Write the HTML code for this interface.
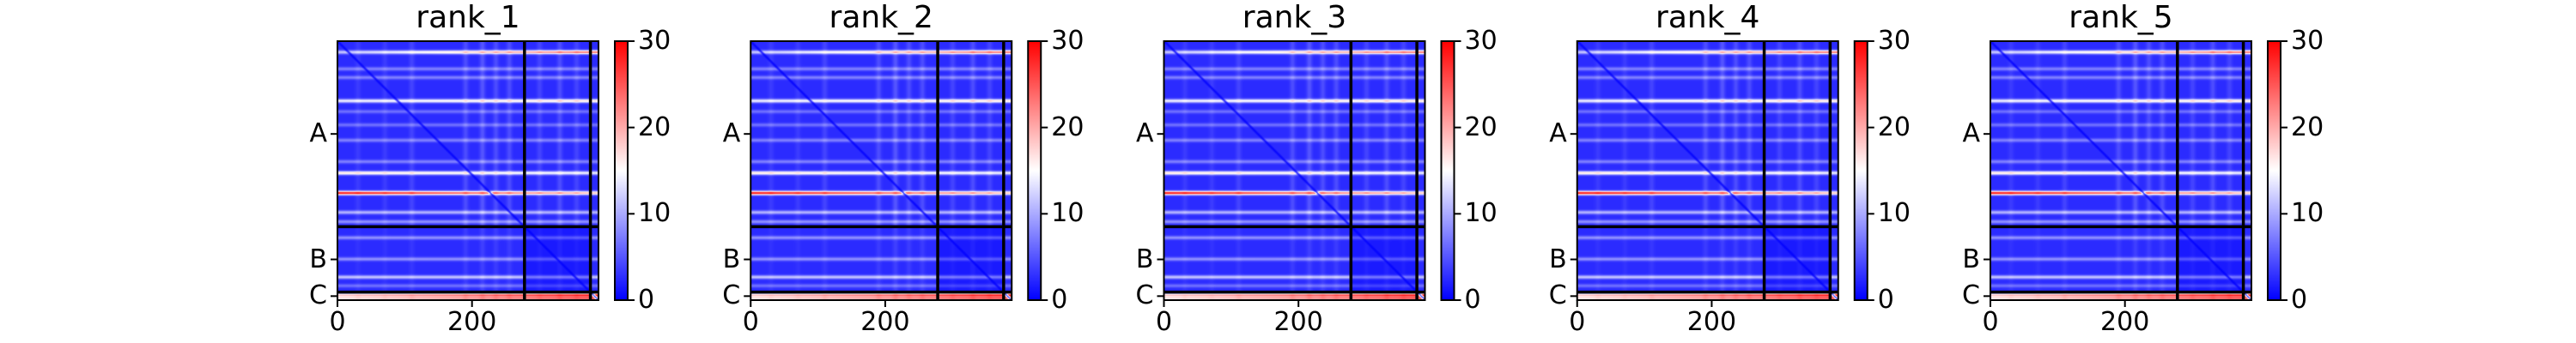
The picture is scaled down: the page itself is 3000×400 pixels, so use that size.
<!DOCTYPE html>
<html><head><meta charset="utf-8">
<style>
body{margin:0;background:#fff;width:3000px;height:400px;overflow:hidden;position:relative;font-family:"Liberation Sans","DejaVu Sans",sans-serif;}
.abs{position:absolute}
.title{font-family:"DejaVu Sans","Liberation Sans",sans-serif;font-size:36px;color:#000;transform:translateX(-50%);white-space:nowrap}
.tick{font-family:"DejaVu Sans","Liberation Sans",sans-serif;font-size:30px;color:#000;white-space:nowrap;line-height:1}
</style></head>
<body>
<div id="root"></div>
<script>
// ---- data (matrix units, 0..388) ----
const N = 388;
const sectionLabels = ["A","B","C"];
const sectionBounds = [0, 278, 376, 388];
const xTicks = [0, 200];
const cbTicks = [0, 10, 20, 30];
const vmax = 30;
const panelTitles = ["rank_1","rank_2","rank_3","rank_4","rank_5"];
// horizontal bright streaks: row index, extra value, left(-1)/right(+1) emphasis
const rowIdx  = [16, 41, 54, 89, 105, 125, 148, 180, 197, 227, 256, 270, 294, 326, 353, 366, 380, 385];
const rowVal  = [15, 5, 5, 13, 4, 4, 5, 5, 13, 21, 8, 6, 6, 6, 9, 4, 20, 18];
const rowTilt = [1, 0, 0, 0.3, 0, 0, 0, 0, -0.3, -0.6, 0, 0, 0, 0, 0, 0, 0.6, 0.6];
// vertical lighter stripes: column index and extra value
const colIdx = [30, 70, 110, 190, 215, 235, 255, 300, 330, 355];
const colVal = [1, 1, 1.5, 2, 2.5, 2, 2, 1.5, 2, 1.5];
const baseVal = 2.5;

function bwr(t){t=Math.max(0,Math.min(1,t));
 if(t<0.5){const k=t/0.5;return [255*k,255*k,255];}
 const k=(t-0.5)/0.5;return [255,255*(1-k),255*(1-k)];}

function rowAt(r,c){let s=0;for(let i=0;i<rowIdx.length;i++){const d=r-rowIdx[i];
  s+=rowVal[i]*(1+rowTilt[i]*(c/N-0.5)*0.8)*Math.exp(-d*d/8);}return s;}
function colProfile(c){let s=0;for(let i=0;i<colIdx.length;i++){const d=c-colIdx[i];s+=colVal[i]*Math.exp(-d*d/18);}return s;}

const root=document.getElementById('root');
const X0=393, STEP=481.25, TOP=48, W=304, H=302;
const sx=v=>v/N*W, sy=v=>v/N*H;

panelTitles.forEach((t,p)=>{
 const L=X0+STEP*p;
 const panel=document.createElement('div');
 
 
 root.appendChild(panel);

 const ti=document.createElement('div');ti.className='abs title';ti.textContent=t;
 ti.style.left=(L+W/2)+'px';ti.style.top='0px';
 
 
 panel.appendChild(ti);

 const cv=document.createElement('canvas');cv.width=N;cv.height=N;cv.className='abs';
 cv.style.left=L+'px';cv.style.top=TOP+'px';cv.style.width=W+'px';cv.style.height=H+'px';
 
 
 panel.appendChild(cv);
 const ctx=cv.getContext('2d');const img=ctx.createImageData(N,N);
 const cp=[];for(let i=0;i<N;i++){cp.push(colProfile(i));}
 for(let r=0;r<N;r++)for(let c=0;c<N;c++){
  let v=baseVal+rowAt(r,c)+cp[c]*(r<278?1:0.5);
  const d=Math.abs(r-c);if(d<4)v*=0.15+0.2*d;
  if(r>=278&&c>=278&&r<376&&c<376)v*=0.6;
  const col=bwr(v/vmax);const k=(r*N+c)*4;
  img.data[k]=col[0];img.data[k+1]=col[1];img.data[k+2]=col[2];img.data[k+3]=255;}
 ctx.putImageData(img,0,0);

 const svgNS='http://www.w3.org/2000/svg';
 const svg=document.createElementNS(svgNS,'svg');
 svg.setAttribute('width','3000');svg.setAttribute('height','400');
 svg.style.position='absolute';svg.style.left='0';svg.style.top='0';
 
 
 panel.appendChild(svg);
 function line(x1,y1,x2,y2,w,name){const l=document.createElementNS(svgNS,'line');
  l.setAttribute('x1',x1);l.setAttribute('y1',y1);l.setAttribute('x2',x2);l.setAttribute('y2',y2);
  l.setAttribute('stroke','#000');l.setAttribute('stroke-width',w);
  
  
  svg.appendChild(l);}
 [sectionBounds[1],sectionBounds[2]].forEach(b=>{
  line(L+sx(b),TOP,L+sx(b),TOP+H,3.5,'section-divider-vertical');
  line(L,TOP+sy(b),L+W,TOP+sy(b),3.5,'section-divider-horizontal');});
 const fr=document.createElementNS(svgNS,'rect');
 fr.setAttribute('x',L);fr.setAttribute('y',TOP);fr.setAttribute('width',W);fr.setAttribute('height',H);
 fr.setAttribute('fill','none');fr.setAttribute('stroke','#000');fr.setAttribute('stroke-width','2');
 
 
 svg.appendChild(fr);
 sectionLabels.forEach((lab,i)=>{
  const mid=(sectionBounds[i]+sectionBounds[i+1])/2;const y=TOP+sy(mid);
  line(L-8,y,L,y,2,'y-tick');
  const d=document.createElement('div');d.className='abs tick';d.textContent=lab;
  d.style.right=(3000-(L-12))+'px';d.style.top=(y-15)+'px';
  
  
  panel.appendChild(d);});
 xTicks.forEach(v=>{const x=L+sx(v);line(x,TOP+H,x,TOP+H+8,2,'x-tick');
  const d=document.createElement('div');d.className='abs tick';d.textContent=v;
  d.style.left=x+'px';d.style.top=(TOP+H+11)+'px';d.style.transform='translateX(-50%)';
  
  
  panel.appendChild(d);});
 const CB=L+323, CBW=15;
 const defs=document.createElementNS(svgNS,'defs');
 const g=document.createElementNS(svgNS,'linearGradient');g.setAttribute('id','cbg'+p);
 g.setAttribute('x1','0');g.setAttribute('y1','1');g.setAttribute('x2','0');g.setAttribute('y2','0');
 [['0','#0000ff'],['0.5','#ffffff'],['1','#ff0000']].forEach(s=>{const st=document.createElementNS(svgNS,'stop');
  st.setAttribute('offset',s[0]);st.setAttribute('stop-color',s[1]);g.appendChild(st);});
 defs.appendChild(g);svg.appendChild(defs);
 const cb=document.createElementNS(svgNS,'rect');
 cb.setAttribute('x',CB);cb.setAttribute('y',TOP);cb.setAttribute('width',CBW);cb.setAttribute('height',H);
 cb.setAttribute('fill','url(#cbg'+p+')');cb.setAttribute('stroke','#000');cb.setAttribute('stroke-width','2');
 
 
 svg.appendChild(cb);
 cbTicks.forEach(v=>{const y=TOP+H-v/vmax*H;line(CB+CBW,y,CB+CBW+8,y,2,'colorbar-tick');
  const d=document.createElement('div');d.className='abs tick';d.textContent=v;
  d.style.left=(CB+CBW+12)+'px';d.style.top=(y-15)+'px';
  
  
  panel.appendChild(d);});
});
</script>
</body></html>
